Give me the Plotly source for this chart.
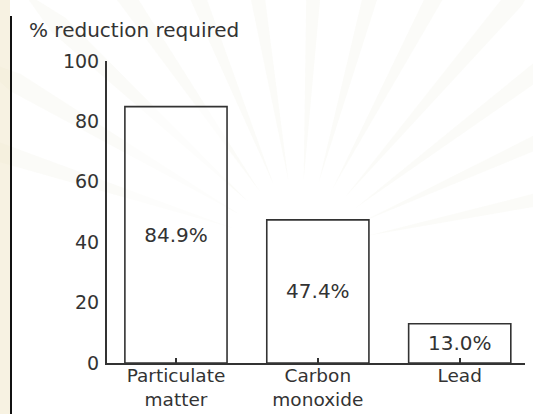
import math
import plotly.graph_objects as go

# Required reduction per pollutant
categories = ["Particulate<br>matter", "Carbon<br>monoxide", "Lead"]
reduction_pct = [84.9, 47.4, 13.0]
value_labels = ["84.9%", "47.4%", "13.0%"]
y_ticks = [0, 20, 40, 60, 80, 100]

W, H = 533, 414
L, R, T, B = 107, 8, 61, 51
plot_w, plot_h = W - L - R, H - T - B
INK = "#333333"
FONT = "DejaVu Sans, Verdana, sans-serif"


def px(x, y):
    """Pixel position -> paper coordinates of the plot area."""
    return (x - L) / plot_w, (H - B - y) / plot_h


xs = list(range(len(categories)))

fig = go.Figure(
    go.Bar(
        x=xs,
        y=reduction_pct,
        width=0.72,
        text=value_labels,
        textposition="inside",
        insidetextanchor="middle",
        textangle=0,
        textfont=dict(family=FONT, size=20, color=INK),
        marker=dict(color="rgba(255,255,255,0.55)",
                    line=dict(color=INK, width=1.6)),
        hoverinfo="skip",
    )
)

# Faint radiating rays of the page emblem behind the chart
shapes = []
cx, cy = 300, 250
for k in range(13):
    ang = math.radians(12 + k * 12.5)
    ux, uy = math.cos(ang), -math.sin(ang)
    nx, ny = -uy, ux
    r0, r1, r2, hw = 70, 330, 380, 10
    pts = [
        (cx + ux * r0, cy + uy * r0),
        (cx + ux * r1 + nx * hw, cy + uy * r1 + ny * hw),
        (cx + ux * r2, cy + uy * r2),
        (cx + ux * r1 - nx * hw, cy + uy * r1 - ny * hw),
    ]
    path = "M " + " L ".join(
        "{:.4f},{:.4f}".format(*px(a, b)) for a, b in pts) + " Z"
    shapes.append(dict(type="path", xref="paper", yref="paper", path=path,
                       fillcolor="rgba(220,212,185,0.10)",
                       line=dict(width=0), layer="below"))

# Beige strip and dark rule at the left page edge
x0, y0 = px(0, 0)
x1, y1 = px(10, H)
shapes.append(dict(type="rect", xref="paper", yref="paper",
                   x0=x0, x1=x1, y0=y1, y1=y0,
                   fillcolor="rgba(238,226,190,0.45)",
                   line=dict(width=0), layer="below"))
lx, ly_top = px(11, 16)
_, ly_bot = px(11, H)
shapes.append(dict(type="line", xref="paper", yref="paper",
                   x0=lx, x1=lx, y0=ly_bot, y1=ly_top,
                   line=dict(color="#111111", width=2)))

tx, ty = px(27, 30)

fig.update_layout(
    width=W, height=H,
    margin=dict(l=L, r=R, t=T, b=B, pad=0),
    paper_bgcolor="white",
    plot_bgcolor="rgba(0,0,0,0)",
    showlegend=False,
    shapes=shapes,
    font=dict(family=FONT, size=19, color=INK),
    annotations=[dict(text="% reduction required", xref="paper", yref="paper",
                      x=tx, y=ty, xanchor="left", yanchor="middle",
                      showarrow=False,
                      font=dict(family=FONT, size=20, color=INK))],
    xaxis=dict(
        range=[-0.486, 2.46],
        tickvals=xs, ticktext=categories,
        showgrid=False, zeroline=False,
        showline=True, linecolor=INK, linewidth=2,
        ticks="inside", ticklen=5, tickwidth=1.5, tickcolor=INK,
        tickfont=dict(family=FONT, size=18.5, color=INK),
        ticklabelstandoff=-5,
        automargin=False,
        fixedrange=True,
    ),
    yaxis=dict(
        range=[0, 100],
        tickvals=y_ticks,
        showgrid=False, zeroline=False,
        showline=True, linecolor=INK, linewidth=2,
        ticks="", ticklabelstandoff=2,
        tickfont=dict(family=FONT, size=19, color=INK),
        automargin=False,
        fixedrange=True,
    ),
)

fig.write_html("out.html", config={"displayModeBar": False})
